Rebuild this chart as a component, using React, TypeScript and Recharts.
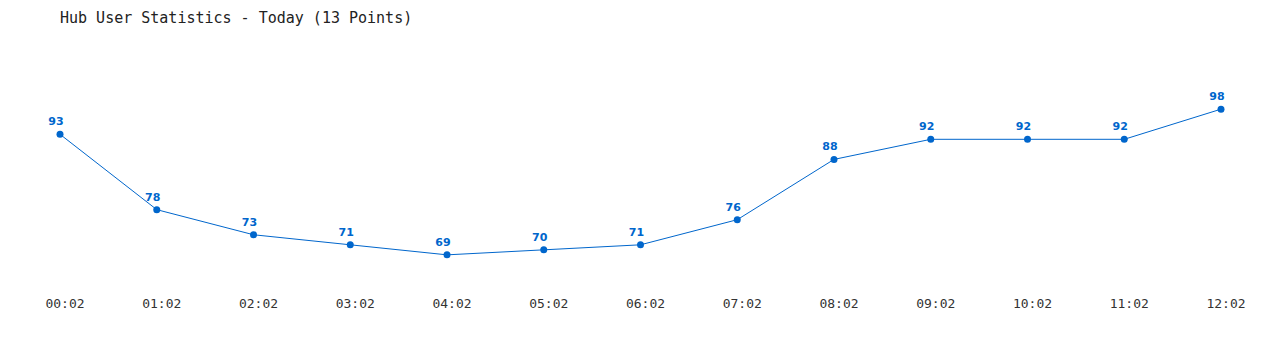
import React from "react";
import { LineChart, Line, XAxis, YAxis, LabelList } from "recharts";

const times = ["00:02", "01:02", "02:02", "03:02", "04:02", "05:02", "06:02", "07:02", "08:02", "09:02", "10:02", "11:02", "12:02"];
const users = [93, 78, 73, 71, 69, 70, 71, 76, 88, 92, 92, 92, 98];

const data = times.map((t, i) => ({ time: t, users: users[i] }));

const BLUE = "#0066cc";

export default function App() {
  return (
    <div style={{ position: "absolute", left: 0, top: 0, width: 1280, height: 350, background: "#fff" }}>
      <div
        style={{
          position: "absolute",
          left: 60,
          top: 9,
          fontFamily: "'DejaVu Sans Mono', monospace",
          fontSize: 15,
          color: "#222",
          whiteSpace: "nowrap",
        }}
      >
        Hub User Statistics - Today (13 Points)
      </div>
      <LineChart width={1280} height={350} data={data} margin={{ top: 74, right: 59, left: 60, bottom: 35 }}>
        <XAxis
          dataKey="time"
          axisLine={false}
          tickLine={false}
          tickMargin={8}
          interval={0}
          dx={5}
          tick={{ fill: "#333", fontSize: 13, fontFamily: "'DejaVu Sans Mono', monospace" }}
        />
        <YAxis hide domain={[63, 105]} />
        <Line
          type="linear"
          dataKey="users"
          stroke={BLUE}
          strokeWidth={1}
          dot={{ r: 3.5, fill: BLUE, stroke: BLUE, strokeWidth: 0 }}
          activeDot={false}
          isAnimationActive={false}
        >
          <LabelList
            dataKey="users"
            position="top"
            offset={9}
            dx={-4}
            fill={BLUE}
            fontSize={11}
            fontWeight="bold"
            fontFamily="'DejaVu Sans', sans-serif"
          />
        </Line>
      </LineChart>
    </div>
  );
}
